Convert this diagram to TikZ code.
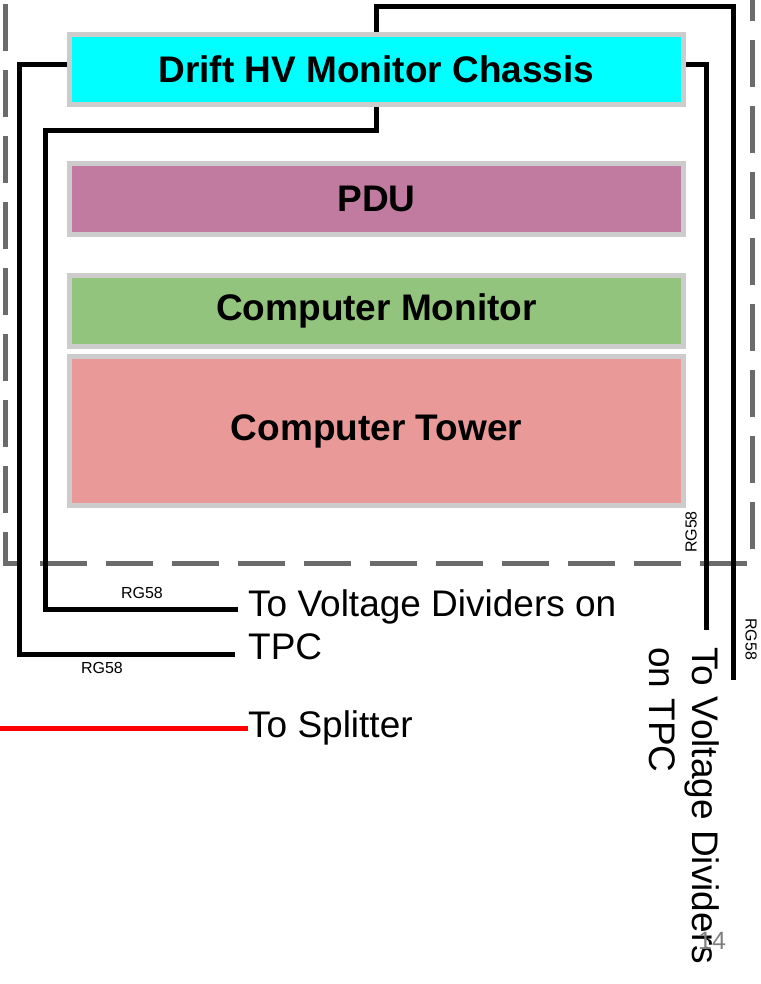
\documentclass[tikz,border=0pt]{standalone}
\usepackage{fontspec}
\setmainfont{Liberation Sans}
\usetikzlibrary{positioning, calc}
\definecolor{chassis}{HTML}{00FFFF}
\definecolor{pdu}{HTML}{C27BA0}
\definecolor{monitor}{HTML}{93C47D}
\definecolor{tower}{HTML}{EA9999}
\definecolor{rim}{HTML}{CCCCCC}
\definecolor{rack}{HTML}{6B6B6B}
\definecolor{pagenum}{HTML}{7F7F7F}

\begin{document}
\begin{tikzpicture}[
    x=1pt, y=-1pt,
    rackunit/.style={rectangle, draw=rim, line width=5pt, minimum width=614pt,
                     inner sep=0pt, font=\fontsize{37}{40}\selectfont\bfseries},
    cable/.style={line width=5pt},
    dest/.style={font=\fontsize{37}{43}\selectfont, inner sep=0pt, align=left},
    cabletag/.style={font=\fontsize{16}{18}\selectfont, inner sep=0pt}
  ]
    \useasboundingbox (0,0) rectangle (760,984);

    % rack outline
    \draw[rack, line width=5pt, dash pattern=on 47pt off 19pt, dash phase=62pt]
      (5,0) -- (5,563) -- (752,563) -- (752,0);

    \node[rackunit, fill=chassis, minimum height=70pt] (hv) at (376.5,69.5) {Drift HV Monitor Chassis};
    \node[rackunit, fill=pdu, minimum height=71pt, below=54pt of hv] (pdu) {PDU};
    \node[rackunit, fill=monitor, minimum height=71pt, below=36pt of pdu] (mon) {Computer Monitor};
    \node[rackunit, fill=tower, minimum height=149pt, below=5pt of mon] (pc) {Computer Tower};

    \node[dest, anchor=north west] (tvdl) at (248,589) {To Voltage Dividers on\\TPC};
    \node[dest, anchor=west] (split) at (248,728) {To Splitter};
    \node[dest, rotate=-90, anchor=north west] (tvdr) at (720,647) {To Voltage Dividers\\on TPC};

    \coordinate (midend) at (238,609);
    \coordinate (leftend) at (235,654);
    \coordinate (rightend) at (706,630);
    \coordinate (topend) at (733,680);
    \coordinate (splitend) at (0,728);

    % cables
    \draw[cable] (hv.north) |- (733,7) -- (topend);
    \draw[cable] ([yshift=5pt]hv.east) -| (rightend);
    \draw[cable] ([yshift=5pt]hv.west) -| (19,654) -- (leftend);
    \draw[cable] (hv.south) |- (45,131) |- (midend);
    \draw[cable, red] (splitend) -- (split.west);

    \node[cabletag] (rg1) at (142,593) {RG58};
    \node[cabletag] (rg2) at (102,668) {RG58};
    \node[cabletag, rotate=90] (rg3) at (691,532) {RG58};
    \node[cabletag, rotate=-90] (rg4) at (751,639) {RG58};

    \node[font=\fontsize{25}{28}\selectfont, text=pagenum, inner sep=0pt] (pg) at (712,941) {14};
  \end{tikzpicture}
\end{document}
